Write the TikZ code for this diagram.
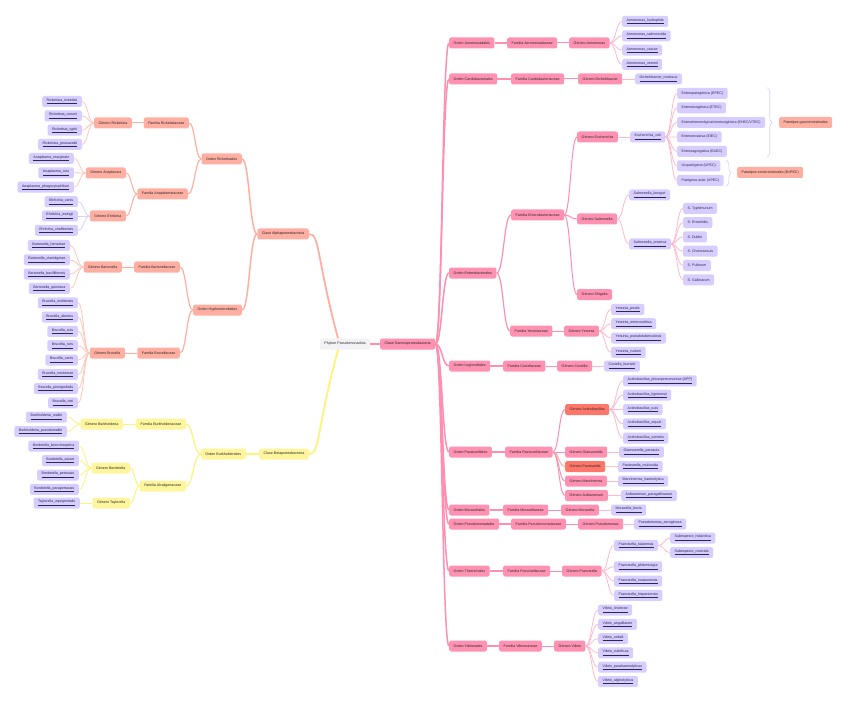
\documentclass[tikz,border=0pt]{standalone}
\usepackage{fontspec}
\setmainfont{Liberation Sans}
\usetikzlibrary{calc, decorations.pathreplacing}

\definecolor{rootgray}{HTML}{F2F2F4}
\definecolor{alphabox}{HTML}{FFAFA2}
\definecolor{alphaline}{HTML}{FFAFA2}
\definecolor{alphalight}{HTML}{FFC6BC}
\definecolor{betabox}{HTML}{FFF59D}
\definecolor{betaline}{HTML}{FFF27A}
\definecolor{gammabox}{HTML}{FF91B2}
\definecolor{gammaline}{HTML}{FF8FB1}
\definecolor{gammalight}{HTML}{FFB8CC}
\definecolor{gammared}{HTML}{FF766B}
\definecolor{leafbox}{HTML}{D7CDFE}
\definecolor{leafline}{HTML}{D8CFFB}
\definecolor{leaftext}{HTML}{2A2850}

\begin{document}
\begin{tikzpicture}[x=1pt, y=-1pt,
        box/.style={rounded corners=2pt, inner xsep=4.5pt, inner ysep=0pt, minimum height=11pt,
            text=black!85, font=\fontsize{3.6}{4.3}\selectfont},
        root/.style={box, fill=rootgray},
        alpha/.style={box, fill=alphabox},
        beta/.style={box, fill=betabox},
        gamma/.style={box, fill=gammabox},
        gred/.style={box, fill=gammared},
        leaf/.style={box, fill=leafbox, text=leaftext},
        link/.style={to path={let \p1=(\tikztostart), \p2=(\tikztotarget) in
            .. controls ({(\x1+\x2)/2},\y1) and ({(\x1+\x2)/2},\y2) .. (\p2) \tikztonodes}},
        al/.style={draw=alphaline, line width=#1, link},
        bl/.style={draw=betaline, line width=#1, link},
        gl/.style={draw=gammaline, line width=#1, link},
        alx/.style={draw=alphalight, line width=0.8pt, link},
        blx/.style={draw=betaline, line width=0.8pt, link},
        glx/.style={draw=gammalight, line width=0.8pt, link},
        plx/.style={draw=leafline, line width=0.8pt, link},
        brc/.style={draw=leafline, line width=0.6pt, decorate, decoration={brace, amplitude=5pt}}
    ]
        \useasboundingbox (0,0) rectangle (848,703);

        % Root and classes
        \node[root] (ph) at (345,344) {Phylum Pseudomonadota};
        \node[gamma, anchor=west] (cG) at (380,344) {Clase Gammaproteobacteria};
        \node[alpha, anchor=east] (cA) at (309,234) {Clase Alphaproteobacteria};
        \node[beta, anchor=east] (cB) at (309,454) {Clase Betaproteobacteria};
        \draw[gl=1.8pt] (ph.east) -- (cG.west);
        \draw[draw=alphaline, line width=1.8pt] (cA.east) .. controls (320,234) and (316,256) .. ([xshift=-7pt]ph.north);
        \draw[draw=betaline, line width=1.8pt] (cB.east) .. controls (320,454) and (316,432) .. ([xshift=-7pt]ph.south);

        % Alphaproteobacteria
        \node[alpha, anchor=east] (oRick) at (242,159) {Orden Rickettsiales};
        \node[alpha, anchor=east] (oHyph) at (242,310) {Orden Hyphomicrobiales};
        \draw[al=1.5pt] (cA.west) to (oRick.east);
        \draw[al=1.5pt] (cA.west) to (oHyph.east);

        \node[alpha, anchor=east] (fRick) at (189,123) {Familia Rickettsiaceae};
        \node[alpha, anchor=east] (fAnap) at (188,194) {Familia Anaplasmataceae};
        \draw[al=1.2pt] (oRick.west) to (fRick.east);
        \draw[al=1.2pt] (oRick.west) to (fAnap.east);

        \node[alpha, anchor=east] (gRick) at (132,123) {Género Rickettsia};
        \draw[al=1pt] (fRick.west) to (gRick.east);
        \node[leaf, anchor=east] (rRicke) at (82,101.5) {\underline{Rickettsia\_rickettsii}}; \draw[alx] (gRick.west) to (rRicke.east);
        \node[leaf, anchor=east] (rConor) at (82,115.8) {\underline{Rickettsia\_conorii}}; \draw[alx] (gRick.west) to (rConor.east);
        \node[leaf, anchor=east] (rTyphi) at (82,130.1) {\underline{Rickettsia\_typhi}}; \draw[alx] (gRick.west) to (rTyphi.east);
        \node[leaf, anchor=east] (rProwa) at (82,144.4) {\underline{Rickettsia\_prowazekii}}; \draw[alx] (gRick.west) to (rProwa.east);

        \node[alpha, anchor=east] (gAnap) at (126,173) {Género Anaplasma};
        \draw[al=1pt] (fAnap.west) to (gAnap.east);
        \node[leaf, anchor=east] (aMarg) at (74,158.5) {\underline{Anaplasma\_marginale}}; \draw[alx] (gAnap.west) to (aMarg.east);
        \node[leaf, anchor=east] (aOvis) at (74,172.8) {\underline{Anaplasma\_ovis}}; \draw[alx] (gAnap.west) to (aOvis.east);
        \node[leaf, anchor=east] (aPhag) at (74,187.1) {\underline{Anaplasma\_phagocytophilum}}; \draw[alx] (gAnap.west) to (aPhag.east);

        \node[alpha, anchor=east] (gEhrl) at (126,216) {Género Ehrlichia};
        \draw[al=1pt] (fAnap.west) to (gEhrl.east);
        \node[leaf, anchor=east] (eCanis) at (78,201.7) {\underline{Ehrlichia\_canis}}; \draw[plx] (gEhrl.west) to (eCanis.east);
        \node[leaf, anchor=east] (eEwing) at (78,216) {\underline{Ehrlichia\_ewingii}}; \draw[plx] (gEhrl.west) to (eEwing.east);
        \node[leaf, anchor=east] (eChaff) at (78,230.3) {\underline{Ehrlichia\_chaffeensis}}; \draw[plx] (gEhrl.west) to (eChaff.east);

        \node[alpha, anchor=east] (fBart) at (180,267) {Familia Bartonellaceae};
        \node[alpha, anchor=east] (fBruc) at (180,353) {Familia Brucellaceae};
        \draw[al=1.2pt] (oHyph.west) to (fBart.east);
        \draw[al=1.2pt] (oHyph.west) to (fBruc.east);

        \node[alpha, anchor=east] (gBart) at (122,267) {Género Bartonella};
        \draw[al=1pt] (fBart.west) to (gBart.east);
        \node[leaf, anchor=east] (bHens) at (70,245.5) {\underline{Bartonella\_henselae}}; \draw[alx] (gBart.west) to (bHens.east);
        \node[leaf, anchor=east] (bClar) at (70,259.8) {\underline{Bartonella\_clarridgeiae}}; \draw[alx] (gBart.west) to (bClar.east);
        \node[leaf, anchor=east] (bBaci) at (70,274.1) {\underline{Bartonella\_bacilliformis}}; \draw[alx] (gBart.west) to (bBaci.east);
        \node[leaf, anchor=east] (bQuin) at (70,288.4) {\underline{Bartonella\_quintana}}; \draw[alx] (gBart.west) to (bQuin.east);

        \node[alpha, anchor=east] (gBruc) at (125,353) {Género Brucella};
        \draw[al=1pt] (fBruc.west) to (gBruc.east);
        \node[leaf, anchor=east] (uMeli) at (78,302.8) {\underline{Brucella\_melitensis}}; \draw[alx] (gBruc.west) to (uMeli.east);
        \node[leaf, anchor=east] (uAbor) at (78,317.1) {\underline{Brucella\_abortus}}; \draw[alx] (gBruc.west) to (uAbor.east);
        \node[leaf, anchor=east] (uSuis) at (78,331.4) {\underline{Brucella\_suis}}; \draw[alx] (gBruc.west) to (uSuis.east);
        \node[leaf, anchor=east] (uOvis) at (78,345.7) {\underline{Brucella\_ovis}}; \draw[alx] (gBruc.west) to (uOvis.east);
        \node[leaf, anchor=east] (uCanis) at (78,360) {\underline{Brucella\_canis}}; \draw[alx] (gBruc.west) to (uCanis.east);
        \node[leaf, anchor=east] (uNeot) at (78,374.3) {\underline{Brucella\_neotomae}}; \draw[alx] (gBruc.west) to (uNeot.east);
        \node[leaf, anchor=east] (uPinn) at (78,388.6) {\underline{Brucella\_pinnipedialis}}; \draw[alx] (gBruc.west) to (uPinn.east);
        \node[leaf, anchor=east] (uCeti) at (78,402.9) {\underline{Brucella\_ceti}}; \draw[alx] (gBruc.west) to (uCeti.east);

        % Betaproteobacteria
        \node[beta, anchor=east] (oBurk) at (246,454) {Orden Burkholderiales};
        \draw[bl=1.5pt] (cB.west) to (oBurk.east);
        \node[beta, anchor=east] (fBurk) at (186,424) {Familia Burkholderiaceae};
        \node[beta, anchor=east] (fAlca) at (186,486) {Familia Alcaligenaceae};
        \draw[bl=1.2pt] (oBurk.west) to (fBurk.east);
        \draw[bl=1.2pt] (oBurk.west) to (fAlca.east);

        \node[beta, anchor=east] (gBurk) at (123,424) {Género Burkholderia};
        \draw[bl=1pt] (fBurk.west) to (gBurk.east);
        \node[leaf, anchor=east] (kMall) at (67,417) {\underline{Burkholderia\_mallei}}; \draw[blx] (gBurk.west) to (kMall.east);
        \node[leaf, anchor=east] (kPseu) at (67,431.5) {\underline{Burkholderia\_pseudomallei}}; \draw[blx] (gBurk.west) to (kPseu.east);

        \node[beta, anchor=east] (gBord) at (130,468) {Género Bordetella};
        \node[beta, anchor=east] (gTayl) at (130,503) {Género Taylorella};
        \draw[bl=1pt] (fAlca.west) to (gBord.east);
        \draw[bl=1pt] (fAlca.west) to (gTayl.east);
        \node[leaf, anchor=east] (dBron) at (79,446.2) {\underline{Bordetella\_bronchiseptica}}; \draw[blx] (gBord.west) to (dBron.east);
        \node[leaf, anchor=east] (dAviu) at (79,460.6) {\underline{Bordetella\_avium}}; \draw[blx] (gBord.west) to (dAviu.east);
        \node[leaf, anchor=east] (dPert) at (79,475) {\underline{Bordetella\_pertussis}}; \draw[blx] (gBord.west) to (dPert.east);
        \node[leaf, anchor=east] (dPara) at (79,489.4) {\underline{Bordetella\_parapertussis}}; \draw[blx] (gBord.west) to (dPara.east);
        \node[leaf, anchor=east] (tEqui) at (80,503) {\underline{Taylorella\_equigenitalis}}; \draw[blx] (gTayl.west) to (tEqui.east);

        % Gammaproteobacteria: orders
        \node[gamma, anchor=west] (oAero) at (449,43) {Orden Aeromonadales};
        \node[gamma, anchor=west] (oCard) at (449,79) {Orden Cardiobacteriales};
        \node[gamma, anchor=west] (oEnte) at (449,273) {Orden Enterobacterales};
        \node[gamma, anchor=west] (oLegi) at (449,366) {Orden Legionellales};
        \node[gamma, anchor=west] (oPast) at (449,452) {Orden Pasteurellales};
        \node[gamma, anchor=west] (oMora) at (449,510) {Orden Moraxellales};
        \node[gamma, anchor=west] (oPseu) at (449,524) {Orden Pseudomonadales};
        \node[gamma, anchor=west] (oThio) at (449,571) {Orden Thiotrichales};
        \node[gamma, anchor=west] (oVibr) at (449,646) {Orden Vibrionales};
        \draw[gl=1.5pt] (cG.east) to (oAero.west);
        \draw[gl=1.5pt] (cG.east) to (oCard.west);
        \draw[gl=1.5pt] (cG.east) to (oEnte.west);
        \draw[gl=1.5pt] (cG.east) to (oLegi.west);
        \draw[gl=1.5pt] (cG.east) to (oPast.west);
        \draw[gl=1.5pt] (cG.east) to (oMora.west);
        \draw[gl=1.5pt] (cG.east) to (oPseu.west);
        \draw[gl=1.5pt] (cG.east) to (oThio.west);
        \draw[gl=1.5pt] (cG.east) to (oVibr.west);

        % Aeromonadales
        \node[gamma, anchor=west] (fAero) at (507,43) {Familia Aeromonadaceae}; \draw[gl=1.2pt] (oAero.east) to (fAero.west);
        \node[gamma, anchor=west] (gAero) at (569,43) {Género Aeromonas}; \draw[gl=1pt] (fAero.east) to (gAero.west);
        \node[leaf, anchor=west] (mHydr) at (622,21.5) {\underline{Aeromonas\_hydrophila}}; \draw[glx] (gAero.east) to (mHydr.west);
        \node[leaf, anchor=west] (mSalm) at (622,35.8) {\underline{Aeromonas\_salmonicida}}; \draw[glx] (gAero.east) to (mSalm.west);
        \node[leaf, anchor=west] (mCavi) at (622,50.1) {\underline{Aeromonas\_caviae}}; \draw[glx] (gAero.east) to (mCavi.west);
        \node[leaf, anchor=west] (mVero) at (622,64.4) {\underline{Aeromonas\_veronii}}; \draw[glx] (gAero.east) to (mVero.west);

        % Cardiobacteriales
        \node[gamma, anchor=west] (fCard) at (511,79) {Familia Cardiobacteriaceae}; \draw[gl=1.2pt] (oCard.east) to (fCard.west);
        \node[gamma, anchor=west] (gDich) at (578,79) {Género Dichelobacter}; \draw[gl=1pt] (fCard.east) to (gDich.west);
        \node[leaf, anchor=west] (nNodo) at (635,79) {\underline{Dichelobacter\_nodosus}}; \draw[glx] (gDich.east) to (nNodo.west);

        % Enterobacterales
        \node[gamma, anchor=west] (fEnte) at (511,215) {Familia Enterobacteriaceae}; \draw[gl=1.2pt] (oEnte.east) to (fEnte.west);
        \node[gamma, anchor=west] (fYers) at (510,331) {Familia Yersiniaceae}; \draw[gl=1.2pt] (oEnte.east) to (fYers.west);
        \node[gamma, anchor=west] (gEsch) at (577,137) {Género Escherichia}; \draw[gl=1pt] (fEnte.east) to (gEsch.west);
        \node[gamma, anchor=west] (gSalm) at (577,219) {Género Salmonella}; \draw[gl=1pt] (fEnte.east) to (gSalm.west);
        \node[gamma, anchor=west] (gShig) at (577,294.5) {Género Shigella}; \draw[gl=1pt] (fEnte.east) to (gShig.west);

        \node[leaf, anchor=west] (eColi) at (630,137) {\underline{Escherichia\_coli}}; \draw[glx] (gEsch.east) to (eColi.west);
        \node[leaf, anchor=west] (eEPEC) at (677,93.4) {Enteropatogénica (EPEC)}; \draw[glx] (eColi.east) to (eEPEC.west);
        \node[leaf, anchor=west] (eETEC) at (677,107.9) {Enterotoxigénica (ETEC)}; \draw[glx] (eColi.east) to (eETEC.west);
        \node[leaf, anchor=west] (eEHEC) at (677,122.4) {Enterohemorrágica/verotoxigénica (EHEC/VTEC)}; \draw[glx] (eColi.east) to (eEHEC.west);
        \node[leaf, anchor=west] (eEIEC) at (677,136.9) {Enteroinvasiva (EIEC)}; \draw[glx] (eColi.east) to (eEIEC.west);
        \node[leaf, anchor=west] (eEAEC) at (677,151.4) {Enteroagregativa (EAEC)}; \draw[glx] (eColi.east) to (eEAEC.west);
        \node[leaf, anchor=west] (eUPEC) at (677,165.9) {Uropatógena (UPEC)}; \draw[glx] (eColi.east) to (eUPEC.west);
        \node[leaf, anchor=west] (eAPEC) at (677,180.4) {Patógena aviar (APEC)}; \draw[glx] (eColi.east) to (eAPEC.west);

        % Patotipos
        \draw[brc] ($(eEHEC.east |- eEPEC.north)+(2,0)$) -- ($(eEHEC.east |- eEAEC.south)+(2,0)$);
        \node[alpha, anchor=west] (pGast) at (779,122.5) {Patotipos gastrointestinales};
        \draw[brc] ($(eAPEC.east |- eUPEC.north)+(2.5,0)$) -- ($(eAPEC.east |- eAPEC.south)+(2.5,0)$);
        \node[alpha, anchor=west] (pExtr) at (737,172.5) {Patotipos extraintestinales (ExPEC)};

        \node[leaf, anchor=west] (sBong) at (629,195) {\underline{Salmonella\_bongori}}; \draw[glx] (gSalm.east) to (sBong.west);
        \node[leaf, anchor=west] (sEnte) at (629,244) {\underline{Salmonella\_enterica}}; \draw[glx] (gSalm.east) to (sEnte.west);
        \node[leaf, anchor=west] (sTyph) at (683,208.3) {S. Typhimurium}; \draw[glx] (sEnte.east) to (sTyph.west);
        \node[leaf, anchor=west] (sEnti) at (683,222.6) {S. Enteritidis}; \draw[glx] (sEnte.east) to (sEnti.west);
        \node[leaf, anchor=west] (sDubl) at (683,236.9) {S. Dublin}; \draw[glx] (sEnte.east) to (sDubl.west);
        \node[leaf, anchor=west] (sChol) at (683,251.2) {S. Choleraesuis}; \draw[glx] (sEnte.east) to (sChol.west);
        \node[leaf, anchor=west] (sPull) at (683,265.5) {S. Pullorum}; \draw[glx] (sEnte.east) to (sPull.west);
        \node[leaf, anchor=west] (sGall) at (683,279.8) {S. Gallinarum}; \draw[glx] (sEnte.east) to (sGall.west);

        \node[gamma, anchor=west] (gYers) at (564,331) {Género Yersinia}; \draw[gl=1pt] (fYers.east) to (gYers.west);
        \node[leaf, anchor=west] (yPest) at (611,309.4) {\underline{Yersinia\_pestis}}; \draw[glx] (gYers.east) to (yPest.west);
        \node[leaf, anchor=west] (yEnte) at (611,323.7) {\underline{Yersinia\_enterocolitica}}; \draw[glx] (gYers.east) to (yEnte.west);
        \node[leaf, anchor=west] (yPseu) at (611,338) {\underline{Yersinia\_pseudotuberculosis}}; \draw[glx] (gYers.east) to (yPseu.west);
        \node[leaf, anchor=west] (yRuck) at (611,352.3) {\underline{Yersinia\_ruckeri}}; \draw[glx] (gYers.east) to (yRuck.west);

        % Legionellales
        \node[gamma, anchor=west] (fCoxi) at (503,366) {Familia Coxiellaceae}; \draw[gl=1.2pt] (oLegi.east) to (fCoxi.west);
        \node[gamma, anchor=west] (gCoxi) at (557,366) {Género Coxiella}; \draw[gl=1pt] (fCoxi.east) to (gCoxi.west);
        \node[leaf, anchor=west] (xBurn) at (604,366) {\underline{Coxiella\_burnetii}}; \draw[glx] (gCoxi.east) to (xBurn.west);

        % Pasteurellales
        \node[gamma, anchor=west] (fPast) at (505,452) {Familia Pasteurellaceae}; \draw[gl=1.2pt] (oPast.east) to (fPast.west);
        \node[gred, anchor=west] (gActi) at (565,409.5) {Género Actinobacillus}; \draw[gl=1pt] (fPast.east) to (gActi.west);
        \node[gamma, anchor=west] (gGlae) at (565,452) {Género Glaesserella}; \draw[gl=1pt] (fPast.east) to (gGlae.west);
        \node[gred, anchor=west] (gPast) at (565,466.5) {Género Pasteurella}; \draw[al=1pt] (fPast.east) to (gPast.west);
        \node[gamma, anchor=west] (gMann) at (565,481) {Género Mannheimia}; \draw[gl=1pt] (fPast.east) to (gMann.west);
        \node[gamma, anchor=west] (gAvib) at (565,495.5) {Género Avibacterium}; \draw[gl=1pt] (fPast.east) to (gAvib.west);
        \node[leaf, anchor=west] (cPleu) at (623,380.9) {\underline{Actinobacillus\_pleuropneumoniae (APP)}}; \draw[glx] (gActi.east) to (cPleu.west);
        \node[leaf, anchor=west] (cLign) at (623,395.2) {\underline{Actinobacillus\_lignieresii}}; \draw[glx] (gActi.east) to (cLign.west);
        \node[leaf, anchor=west] (cSuis) at (623,409.5) {\underline{Actinobacillus\_suis}}; \draw[glx] (gActi.east) to (cSuis.west);
        \node[leaf, anchor=west] (cEquu) at (623,423.8) {\underline{Actinobacillus\_equuli}}; \draw[glx] (gActi.east) to (cEquu.west);
        \node[leaf, anchor=west] (cSemi) at (623,438.1) {\underline{Actinobacillus\_seminis}}; \draw[glx] (gActi.east) to (cSemi.west);
        \node[leaf, anchor=west] (qPara) at (619,452) {\underline{Glaesserella\_parasuis}}; \draw[glx] (gGlae.east) to (qPara.west);
        \node[leaf, anchor=west] (qMult) at (618,466.5) {\underline{Pasteurella\_multocida}}; \draw[alx] (gPast.east) to (qMult.west);
        \node[leaf, anchor=west] (qHaem) at (618,481) {\underline{Mannheimia\_haemolytica}}; \draw[glx] (gMann.east) to (qHaem.west);
        \node[leaf, anchor=west] (qGall) at (621,495.5) {\underline{Avibacterium\_paragallinarum}}; \draw[glx] (gAvib.east) to (qGall.west);

        % Moraxellales and Pseudomonadales
        \node[gamma, anchor=west] (fMora) at (503,510) {Familia Moraxellaceae}; \draw[gl=1.2pt] (oMora.east) to (fMora.west);
        \node[gamma, anchor=west] (gMora) at (561,510) {Género Moraxella}; \draw[gl=1pt] (fMora.east) to (gMora.west);
        \node[leaf, anchor=west] (vBovi) at (611,510) {\underline{Moraxella\_bovis}}; \draw[glx] (gMora.east) to (vBovi.west);
        \node[gamma, anchor=west] (fPseu) at (511,524) {Familia Pseudomonadaceae}; \draw[gl=1.2pt] (oPseu.east) to (fPseu.west);
        \node[gamma, anchor=west] (gPseu) at (578,524) {Género Pseudomonas}; \draw[gl=1pt] (fPseu.east) to (gPseu.west);
        \node[leaf, anchor=west] (wAeru) at (634,524) {\underline{Pseudomonas\_aeruginosa}}; \draw[glx] (gPseu.east) to (wAeru.west);

        % Thiotrichales
        \node[gamma, anchor=west] (fFran) at (503,571) {Familia Francisellaceae}; \draw[gl=1.2pt] (oThio.east) to (fFran.west);
        \node[gamma, anchor=west] (gFran) at (562,571) {Género Francisella}; \draw[gl=1pt] (fFran.east) to (gFran.west);
        \node[leaf, anchor=west] (fTula) at (614,545.5) {\underline{Francisella\_tularensis}}; \draw[glx] (gFran.east) to (fTula.west);
        \node[leaf, anchor=west] (fHola) at (670,538) {\underline{Subespecie\_holarctica}}; \draw[glx] (fTula.east) to (fHola.west);
        \node[leaf, anchor=west] (fNovi) at (670,552.5) {\underline{Subespecie\_novicida}}; \draw[glx] (fTula.east) to (fNovi.west);
        \node[leaf, anchor=west] (fPhil) at (614,566.8) {\underline{Francisella\_philomiragia}}; \draw[glx] (gFran.east) to (fPhil.west);
        \node[leaf, anchor=west] (fNoat) at (614,581.1) {\underline{Francisella\_noatunensis}}; \draw[glx] (gFran.east) to (fNoat.west);
        \node[leaf, anchor=west] (fHisp) at (614,595.4) {\underline{Francisella\_hispaniensis}}; \draw[glx] (gFran.east) to (fHisp.west);

        % Vibrionales
        \node[gamma, anchor=west] (fVibr) at (499,646) {Familia Vibrionaceae}; \draw[gl=1.2pt] (oVibr.east) to (fVibr.west);
        \node[gamma, anchor=west] (gVibr) at (554,646) {Género Vibrio}; \draw[gl=1pt] (fVibr.east) to (gVibr.west);
        \node[leaf, anchor=west] (vChol) at (598,610) {\underline{Vibrio\_cholerae}}; \draw[glx] (gVibr.east) to (vChol.west);
        \node[leaf, anchor=west] (vAngu) at (598,624.3) {\underline{Vibrio\_anguillarum}}; \draw[glx] (gVibr.east) to (vAngu.west);
        \node[leaf, anchor=west] (vOrda) at (598,638.6) {\underline{Vibrio\_ordalii}}; \draw[glx] (gVibr.east) to (vOrda.west);
        \node[leaf, anchor=west] (vVuln) at (598,652.9) {\underline{Vibrio\_vulnificus}}; \draw[glx] (gVibr.east) to (vVuln.west);
        \node[leaf, anchor=west] (vPara) at (598,667.2) {\underline{Vibrio\_parahaemolyticus}}; \draw[glx] (gVibr.east) to (vPara.west);
        \node[leaf, anchor=west] (vAlgi) at (598,681.5) {\underline{Vibrio\_alginolyticus}}; \draw[glx] (gVibr.east) to (vAlgi.west);
    \end{tikzpicture}
\end{document}
